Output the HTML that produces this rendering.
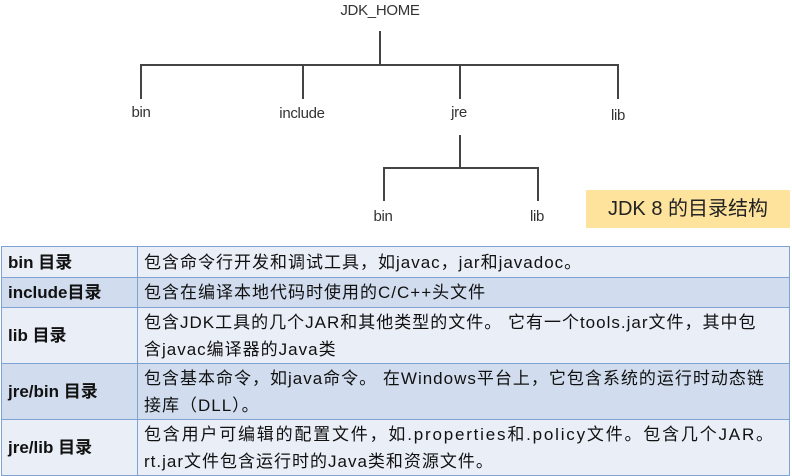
<!DOCTYPE html>
<html><head><meta charset="utf-8"><style>
body{margin:0;width:792px;height:476px;background:#fff;position:relative;overflow:hidden;font-family:"Liberation Sans","Noto Sans CJK SC",sans-serif}
.l{position:absolute;font-family:"Liberation Sans",sans-serif;font-size:15px;color:#333;transform:translateX(-50%);letter-spacing:-0.3px}
.ln{position:absolute;background:#444}
table{position:absolute;left:1px;top:246px;width:789px;border-collapse:collapse;font-size:17px;color:#111;table-layout:fixed}
td{border:1.5px solid #7ea3d2;padding:0 6px;line-height:27px;white-space:nowrap;overflow:hidden;letter-spacing:1px}
td.h{font-weight:bold;width:123px;letter-spacing:0}
tr.a td{background:#e9eef7}
tr.b td{background:#d1ddee}
</style></head><body>
<div class="l" style="left:380px;top:2px">JDK_HOME</div>
<div class="ln" style="left:379px;top:31px;width:1.5px;height:34px"></div>
<div class="ln" style="left:140px;top:64px;width:478px;height:1.5px"></div>
<div class="ln" style="left:140px;top:64px;width:1.5px;height:35px"></div>
<div class="ln" style="left:302px;top:64px;width:1.5px;height:35px"></div>
<div class="ln" style="left:459px;top:64px;width:1.5px;height:35px"></div>
<div class="ln" style="left:617px;top:64px;width:1.5px;height:35px"></div>
<div class="l" style="left:141px;top:104px">bin</div>
<div class="l" style="left:302px;top:105px">include</div>
<div class="l" style="left:459px;top:104px">jre</div>
<div class="l" style="left:618px;top:107px">lib</div>
<div class="ln" style="left:459px;top:135px;width:1.5px;height:33px"></div>
<div class="ln" style="left:383px;top:167px;width:155px;height:1.5px"></div>
<div class="ln" style="left:383px;top:167px;width:1.5px;height:34px"></div>
<div class="ln" style="left:537px;top:167px;width:1.5px;height:34px"></div>
<div class="l" style="left:383px;top:208px">bin</div>
<div class="l" style="left:537px;top:208px">lib</div>
<div style="position:absolute;left:586px;top:190px;width:204px;height:38px;background:#fde39c;font-size:20px;line-height:38px;text-align:center;color:#222">JDK 8 的目录结构</div>
<table>
<tr class="a" style="height:31px"><td class="h">bin 目录</td><td>包含命令行开发和调试工具，如javac，jar和javadoc。</td></tr>
<tr class="b" style="height:30px"><td class="h">include目录</td><td>包含在编译本地代码时使用的C/C++头文件</td></tr>
<tr class="a" style="height:56px"><td class="h">lib 目录</td><td>包含JDK工具的几个JAR和其他类型的文件。 它有一个tools.jar文件，其中包<br>含javac编译器的Java类</td></tr>
<tr class="b" style="height:56px"><td class="h">jre/bin 目录</td><td>包含基本命令，如java命令。 在Windows平台上，它包含系统的运行时动态链<br>接库（DLL）。</td></tr>
<tr class="a" style="height:56px"><td class="h">jre/lib 目录</td><td><span style="letter-spacing:1.8px">包含用户可编辑的配置文件，如.properties和.policy文件。包含几个JAR。</span><br>rt.jar文件包含运行时的Java类和资源文件。</td></tr>
</table>
</body></html>
